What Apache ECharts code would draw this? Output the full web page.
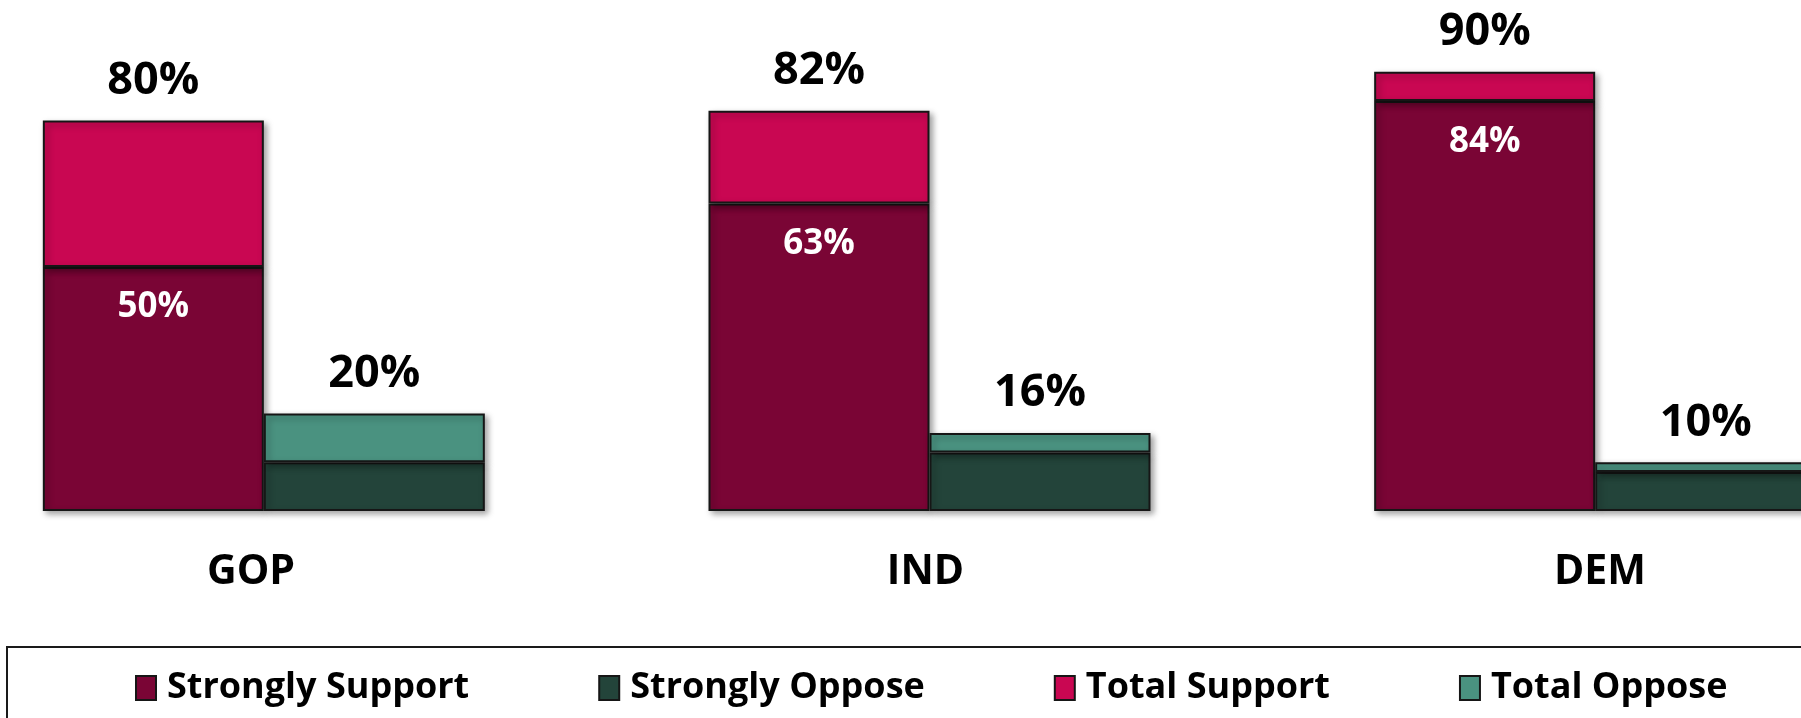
<!DOCTYPE html>
<html>
<head>
<meta charset="utf-8">
<title>Support / Oppose by party</title>
<script src="https://cdn.jsdelivr.net/npm/echarts@6/dist/echarts.min.js"></script>
<style>
  html, body { margin: 0; padding: 0; background: #fff; }
  #chart { width: 1801px; height: 718px; }
</style>
</head>
<body>
<div id="chart"></div>
<script>
// values (percent)
const categories = ['GOP', 'IND', 'DEM']
const stronglySupport = [50, 63, 84]
const totalSupport = [80, 82, 90]
const stronglyOppose = [10, 12, 8]
const totalOppose = [20, 16, 10]

const FONT = '"Open Sans", "DejaVu Sans", sans-serif'

const colors = {
  strongSupport: '#7a0535',
  totalSupport: '#c90752',
  strongOppose: '#23443a',
  totalOppose: '#4a9280',
}

const barStyle = color => ({
  color,
  borderColor: '#161616',
  borderWidth: 2,
  shadowColor: 'rgba(0, 0, 0, 0.35)',
  shadowBlur: 6,
  shadowOffsetX: 3,
  shadowOffsetY: 3,
})

const chart = echarts.init(document.getElementById('chart'))

const option = {
  animation: false,
  backgroundColor: '#fff',
  grid: [
    // bars (plot runs past both edges of the picture, like the original)
    { left: -69, right: -127, top: 23, bottom: 207, containLabel: false, outerBoundsMode: 'none' },
    // category names sit a little off the bar centres in the original
    { left: 251, right: 201, top: 23, bottom: 207, containLabel: false, outerBoundsMode: 'none' },
  ],
  xAxis: [
    {
      type: 'category',
      gridIndex: 0,
      data: categories,
      axisLine: { show: false },
      axisTick: { show: false },
      axisLabel: { show: false },
    },
    {
      type: 'category',
      gridIndex: 1,
      data: categories,
      boundaryGap: false,
      axisLine: { show: false },
      axisTick: { show: false },
      splitLine: { show: false },
      axisLabel: {
        margin: 41,
        fontFamily: FONT,
        fontWeight: 'bold',
        fontSize: 41,
        color: '#000',
      },
    },
  ],
  yAxis: [
    { type: 'value', gridIndex: 0, min: 0, max: 100, show: false },
    { type: 'value', gridIndex: 1, min: 0, max: 100, show: false },
  ],
  legend: {
    left: 7,
    top: 647,
    width: 1900,
    padding: [21, 120, 80, 128],
    itemGap: 129,
    itemWidth: 20,
    itemHeight: 24,
    icon: 'rect',
    borderColor: '#1a1a1a',
    borderWidth: 2,
    data: ['Strongly Support', 'Strongly Oppose', 'Total Support', 'Total Oppose'],
    textStyle: {
      fontFamily: FONT,
      fontWeight: 'bold',
      fontSize: 36,
      lineHeight: 40,
      color: '#000',
      padding: [0, 0, 0, 6],
    },
  },
  series: [
    {
      name: 'Strongly Support',
      type: 'bar',
      stack: 'support',
      barWidth: 221,
      barGap: '0%',
      data: stronglySupport,
      itemStyle: barStyle(colors.strongSupport),
      label: {
        show: true,
        position: 'insideTop',
        distance: 23,
        formatter: p => p.value + '%',
        fontFamily: FONT,
        fontWeight: 'bold',
        fontSize: 35,
        lineHeight: 35,
        color: '#fff',
      },
    },
    {
      name: 'Strongly Oppose',
      type: 'bar',
      stack: 'oppose',
      barWidth: 221,
      barGap: '0%',
      data: stronglyOppose,
      itemStyle: barStyle(colors.strongOppose),
    },
    {
      name: 'Total Support',
      type: 'bar',
      stack: 'support',
      barWidth: 221,
      barGap: '0%',
      data: totalSupport.map((v, i) => v - stronglySupport[i]),
      itemStyle: barStyle(colors.totalSupport),
      label: {
        show: true,
        position: 'top',
        distance: 17,
        formatter: p => totalSupport[p.dataIndex] + '%',
        fontFamily: FONT,
        fontWeight: 'bold',
        fontSize: 45,
        lineHeight: 45,
        color: '#000',
      },
    },
    {
      name: 'Total Oppose',
      type: 'bar',
      stack: 'oppose',
      barWidth: 221,
      barGap: '0%',
      data: totalOppose.map((v, i) => v - stronglyOppose[i]),
      itemStyle: barStyle(colors.totalOppose),
      label: {
        show: true,
        position: 'top',
        distance: 17,
        formatter: p => totalOppose[p.dataIndex] + '%',
        fontFamily: FONT,
        fontWeight: 'bold',
        fontSize: 45,
        lineHeight: 45,
        color: '#000',
      },
    },
  ],
}

chart.setOption(option)
</script>
</body>
</html>
